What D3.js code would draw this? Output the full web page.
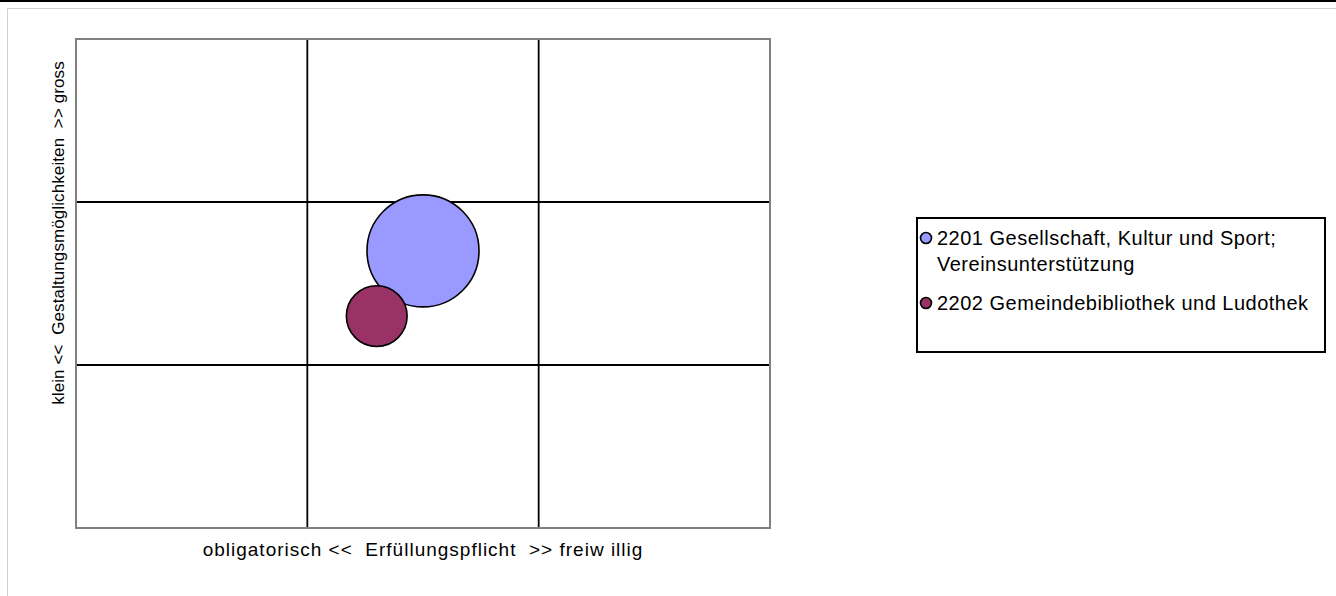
<!DOCTYPE html>
<html>
<head>
<meta charset="utf-8">
<script src="https://cdn.jsdelivr.net/npm/d3@7"></script>
<style>
  html, body { margin: 0; padding: 0; background: #fff; }
  svg { display: block; font-family: "Liberation Sans", Arial, sans-serif; }
</style>
</head>
<body>
<svg id="chart" width="1336" height="596"></svg>
<script>
// ---- data ----
const seriesNames = ["2201 Gesellschaft, Kultur und Sport;\nVereinsunterstützung", "2202 Gemeindebibliothek und Ludothek"];
const xValues = [1.5, 1.3];
const yValues = [1.7, 1.3];
const sizeValues = [340, 100];
const colors = ["#9999FF", "#993366"];
const xTicks = [0, 1, 2, 3];
const yTicks = [0, 1, 2, 3];
const xTitle = "obligatorisch <<  Erfüllungspflicht  >> freiw illig";
const yTitle = "klein <<  Gestaltungsmöglichkeiten  >> gross";

// ---- layout ----
const svg = d3.select("#chart");
const W = 1336, H = 596;
const plot = { left: 76, top: 39, right: 770, bottom: 528 };

// top black rule and outer gray frame
svg.append("rect").attr("x", 0).attr("y", 0).attr("width", W).attr("height", 2).attr("fill", "#000");
svg.append("path")
  .attr("d", `M${W},8.5 H7.5 V${H}`)
  .attr("fill", "none").attr("stroke", "#d0d0d0").attr("stroke-width", 1);

const x = d3.scaleLinear().domain([0, 3]).range([plot.left, plot.right]);
const y = d3.scaleLinear().domain([0, 3]).range([plot.bottom, plot.top]);
const r = d3.scaleSqrt().domain([0, d3.max(sizeValues)]).range([0, 56]);

// gridlines
const g = svg.append("g");
g.selectAll("line.vx").data(xTicks.slice(1, -1)).enter().append("line")
  .attr("x1", d => x(d)).attr("x2", d => x(d))
  .attr("y1", plot.top).attr("y2", plot.bottom)
  .attr("stroke", "#000").attr("stroke-width", 1.8);
g.selectAll("line.hy").data(yTicks.slice(1, -1)).enter().append("line")
  .attr("y1", d => y(d)).attr("y2", d => y(d))
  .attr("x1", plot.left).attr("x2", plot.right)
  .attr("stroke", "#000").attr("stroke-width", 1.8);

// plot border
svg.append("rect")
  .attr("x", plot.left).attr("y", plot.top)
  .attr("width", plot.right - plot.left).attr("height", plot.bottom - plot.top)
  .attr("fill", "none").attr("stroke", "#808080").attr("stroke-width", 2);

// bubbles
const data = seriesNames.map((n, i) => ({ name: n, x: xValues[i], y: yValues[i], s: sizeValues[i], c: colors[i] }));
svg.append("g").selectAll("circle").data(data).enter().append("circle")
  .attr("cx", d => x(d.x)).attr("cy", d => y(d.y)).attr("r", d => r(d.s))
  .attr("fill", d => d.c).attr("stroke", "#000").attr("stroke-width", 1.6);

// axis titles
svg.append("text")
  .attr("x", (plot.left + plot.right) / 2).attr("y", 556)
  .attr("text-anchor", "middle").attr("font-size", 19).attr("letter-spacing", 1)
  .attr("fill", "#000").style("white-space", "pre")
  .text(xTitle);
svg.append("text")
  .attr("transform", `translate(64,233) rotate(-90)`)
  .attr("text-anchor", "middle").attr("font-size", 17).attr("letter-spacing", 0.1)
  .attr("fill", "#000").style("white-space", "pre")
  .text(yTitle);

// legend
const lg = svg.append("g");
lg.append("rect").attr("x", 917).attr("y", 218).attr("width", 408).attr("height", 134)
  .attr("fill", "#fff").attr("stroke", "#000").attr("stroke-width", 2);
const entryY = [238, 303];
data.forEach((d, i) => {
  lg.append("circle").attr("cx", 926).attr("cy", entryY[i]).attr("r", 5.5)
    .attr("fill", d.c).attr("stroke", "#000").attr("stroke-width", 1.6);
  const t = lg.append("text").attr("x", 937).attr("y", entryY[i] + 7)
    .attr("font-size", 20).attr("letter-spacing", 0.5).attr("fill", "#000");
  d.name.split("\n").forEach((line, j) => {
    t.append("tspan").attr("x", 937).attr("dy", j === 0 ? 0 : 26).text(line);
  });
});
</script>
</body>
</html>
